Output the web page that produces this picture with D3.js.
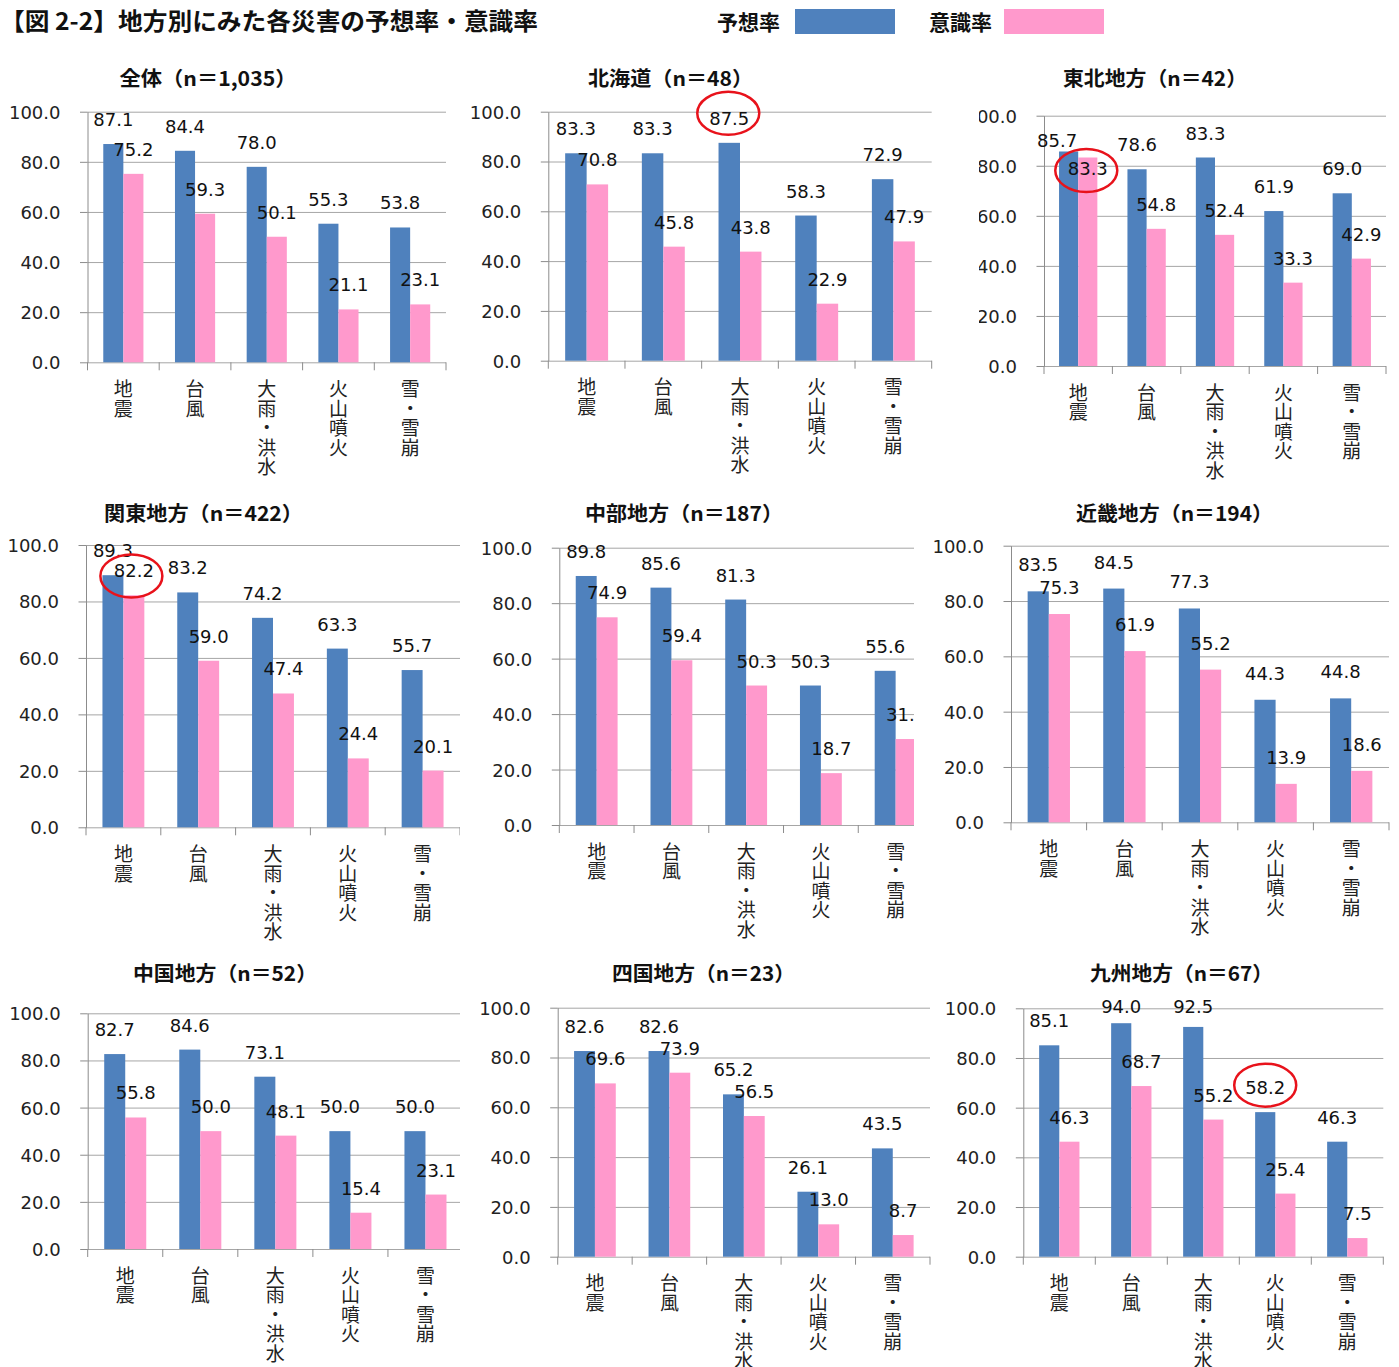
<!DOCTYPE html>
<html>
<head>
<meta charset="utf-8">
<script src="https://cdn.jsdelivr.net/npm/d3@7"></script>
<style>
  body { margin: 0; background: #fff; }
  svg { display: block; }
  .grid line { stroke: #a6a6a6; stroke-width: 1; }
  .grid path { display: none; }
  .yaxis path, .yaxis line { stroke: #8c8c8c; }
  .yaxis text { font-family: "DejaVu Sans", Verdana, sans-serif; font-size: 18px; fill: #222; }
  .vlabel { font-family: "DejaVu Sans", Verdana, sans-serif; font-size: 18px; fill: #111; }
  .cat { font-family: "Noto Sans CJK JP", sans-serif; font-size: 19px; fill: #222;
         writing-mode: vertical-rl; letter-spacing: 0.5px; }
  .ptitle { font-family: "Noto Sans CJK JP", sans-serif; font-weight: bold; font-size: 20px; fill: #111; }
</style>
</head>
<body>
<svg id="chart" width="1399" height="1367"></svg>
<script>
// ---- data ----
var categories = ["地震", "台風", "大雨・洪水", "火山噴火", "雪・雪崩"];
var seriesNames = ["予想率", "意識率"];
var regionTitles = ["全体（n＝1,035）", "北海道（n＝48）", "東北地方（n＝42）",
                    "関東地方（n＝422）", "中部地方（n＝187）", "近畿地方（n＝194）",
                    "中国地方（n＝52）", "四国地方（n＝23）", "九州地方（n＝67）"];
var yosouRate = [
  [87.1, 84.4, 78.0, 55.3, 53.8],
  [83.3, 83.3, 87.5, 58.3, 72.9],
  [85.7, 78.6, 83.3, 61.9, 69.0],
  [89.3, 83.2, 74.2, 63.3, 55.7],
  [89.8, 85.6, 81.3, 50.3, 55.6],
  [83.5, 84.5, 77.3, 44.3, 44.8],
  [82.7, 84.6, 73.1, 50.0, 50.0],
  [82.6, 82.6, 65.2, 26.1, 43.5],
  [85.1, 94.0, 92.5, 58.2, 46.3]
];
var ishikiRate = [
  [75.2, 59.3, 50.1, 21.1, 23.1],
  [70.8, 45.8, 43.8, 22.9, 47.9],
  [83.3, 54.8, 52.4, 33.3, 42.9],
  [82.2, 59.0, 47.4, 24.4, 20.1],
  [74.9, 59.4, 50.3, 18.7, 31.0],
  [75.3, 61.9, 55.2, 13.9, 18.6],
  [55.8, 50.0, 48.1, 15.4, 23.1],
  [69.6, 73.9, 56.5, 13.0, 8.7],
  [46.3, 68.7, 55.2, 25.4, 7.5]
];
var yTicks = [0, 20, 40, 60, 80, 100];

// ---- layout (pixels) ----
var panels = [
  {left: 87.5, right: 446, top: 111.7, bottom: 362.3, tx: 208, ty: 86, tw: 177},
  {left: 548.3, right: 931.7, top: 111.7, bottom: 360.7, tx: 670.5, ty: 86, tw: 165},
  {left: 1044, right: 1386, top: 115.7, bottom: 366, tx: 1155, ty: 86, tw: 184, clip: [979, 1399]},
  {left: 86, right: 460, top: 545, bottom: 827.3, tx: 203.5, ty: 521, tw: 199, clip: [0, 460]},
  {left: 559.3, right: 933, top: 547.7, bottom: 825, tx: 684, ty: 521, tw: 198, clip: [465, 914]},
  {left: 1011, right: 1389, top: 545.7, bottom: 822.3, tx: 1174.5, ty: 521, tw: 197, gap: 20},
  {left: 87.7, right: 463, top: 1013.3, bottom: 1249, tx: 225, ty: 981, tw: 184, clip: [0, 460]},
  {left: 557.7, right: 930, top: 1007.7, bottom: 1256.7, tx: 703.5, ty: 981, tw: 183},
  {left: 1023.3, right: 1383.3, top: 1008.3, bottom: 1256.7, tx: 1181.5, ty: 981, tw: 183}
];
// hand-moved labels: [panel, series, category, dx, dy]
var labelMoves = [[2, 0, 0, -11.5, 13.5], [2, 1, 0, 0, 35.7], [8, 0, 1, 0, 8], [8, 0, 2, 0, 4.4]];
// red ellipses round labels: [panel, series, category, dx, dy]
var marks = [[1, 0, 2, -1, -11.5], [2, 1, 0, -1.5, -4.7], [3, 1, 0, -2.5, -1.3], [8, 0, 3, 0, -9]];

var colors = ["#4f81bd", "#ff99cc"];
var svg = d3.select("#chart");
var fmt = d3.format(".1f");

// main title
svg.append("text")
  .attr("x", 0).attr("y", 30)
  .attr("textLength", 538).attr("lengthAdjust", "spacingAndGlyphs")
  .style("font-family", "'Noto Sans CJK JP', sans-serif")
  .style("font-weight", "bold").style("font-size", "24px").style("fill", "#111")
  .text("【図 2-2】地方別にみた各災害の予想率・意識率");

// legend
var legX = [717, 929], boxX = [795, 1004];
seriesNames.forEach(function(s, i) {
  svg.append("text")
    .attr("x", legX[i]).attr("y", 30)
    .attr("textLength", 63).attr("lengthAdjust", "spacingAndGlyphs")
    .style("font-family", "'Noto Sans CJK JP', sans-serif")
    .style("font-weight", "bold").style("font-size", "21px").style("fill", "#111")
    .text(s);
  svg.append("rect")
    .attr("x", boxX[i]).attr("y", 9).attr("width", 100).attr("height", 25)
    .attr("fill", colors[i]);
});

panels.forEach(function(p, pi) {
  var g = svg.append("g");
  if (p.clip) {
    svg.append("clipPath").attr("id", "clip" + pi)
      .append("rect").attr("x", p.clip[0]).attr("y", 0)
      .attr("width", p.clip[1] - p.clip[0]).attr("height", 1367);
    g.attr("clip-path", "url(#clip" + pi + ")");
  }

  var y = d3.scaleLinear().domain([0, 100]).range([p.bottom, p.top]);
  var x = d3.scaleBand().domain(categories).range([p.left, p.right]);
  var bw = x.bandwidth();
  var xs = d3.scaleBand().domain(seriesNames).range([bw * 0.22, bw * 0.78]);

  // gridlines
  g.append("g").attr("class", "grid")
    .attr("transform", "translate(" + p.left + ",0)")
    .call(d3.axisLeft(y).tickValues(yTicks).tickSize(-(p.right - p.left)).tickFormat(""));

  // y axis
  g.append("g").attr("class", "yaxis")
    .attr("transform", "translate(" + p.left + ",0)")
    .call(d3.axisLeft(y).tickValues(yTicks).tickSize(7.5).tickSizeOuter(0)
      .tickPadding(19.5).tickFormat(fmt))
    .call(function(a) { a.selectAll("text").attr("dy", "0.36em"); });

  // category boundary ticks
  var bounds = categories.map(function(c) { return x(c); }).concat([x.range()[1]]);
  g.selectAll(".ctick").data(bounds).enter().append("line")
    .attr("x1", function(d) { return d; }).attr("x2", function(d) { return d; })
    .attr("y1", p.bottom).attr("y2", p.bottom + 8)
    .attr("stroke", "#8c8c8c");

  var rows = [];
  categories.forEach(function(c, ci) {
    rows.push({s: 0, c: ci, v: yosouRate[pi][ci]});
    rows.push({s: 1, c: ci, v: ishikiRate[pi][ci]});
  });

  // bars
  g.selectAll(".bar").data(rows).enter().append("rect")
    .attr("x", function(d) { return x(categories[d.c]) + xs(seriesNames[d.s]); })
    .attr("y", function(d) { return y(d.v); })
    .attr("width", xs.bandwidth())
    .attr("height", function(d) { return p.bottom - y(d.v); })
    .attr("fill", function(d) { return colors[d.s]; });

  // value labels
  var gap = p.gap || 18;
  function labelPos(d) {
    var lx = x(categories[d.c]) + xs(seriesNames[d.s]) + xs.bandwidth() / 2;
    var ly = y(d.v) - gap;
    labelMoves.forEach(function(m) {
      if (m[0] === pi && m[1] === d.s && m[2] === d.c) { lx += m[3]; ly += m[4]; }
    });
    return [lx, ly];
  }
  g.selectAll(".vlabel").data(rows).enter().append("text")
    .attr("class", "vlabel")
    .attr("text-anchor", "middle")
    .attr("x", function(d) { return labelPos(d)[0]; })
    .attr("y", function(d) { return labelPos(d)[1]; })
    .text(function(d) { return fmt(d.v); });

  // red ellipses
  marks.filter(function(m) { return m[0] === pi; }).forEach(function(m) {
    var pos = labelPos({s: m[1], c: m[2], v: (m[1] ? ishikiRate : yosouRate)[pi][m[2]]});
    g.append("ellipse")
      .attr("cx", pos[0] + m[3]).attr("cy", pos[1] + m[4])
      .attr("rx", 31).attr("ry", 21.5)
      .attr("fill", "none").attr("stroke", "#e8121b").attr("stroke-width", 2.5);
  });

  // vertical category labels
  g.selectAll(".cat").data(categories).enter().append("text")
    .attr("class", "cat")
    .attr("x", function(c) { return x(c) + bw / 2; })
    .attr("y", p.bottom + 17)
    .text(function(c) { return c; });

  // panel title
  svg.append("text").attr("class", "ptitle")
    .attr("x", p.tx - p.tw / 2).attr("y", p.ty)
    .attr("textLength", p.tw).attr("lengthAdjust", "spacingAndGlyphs")
    .text(regionTitles[pi]);
});
</script>
</body>
</html>
